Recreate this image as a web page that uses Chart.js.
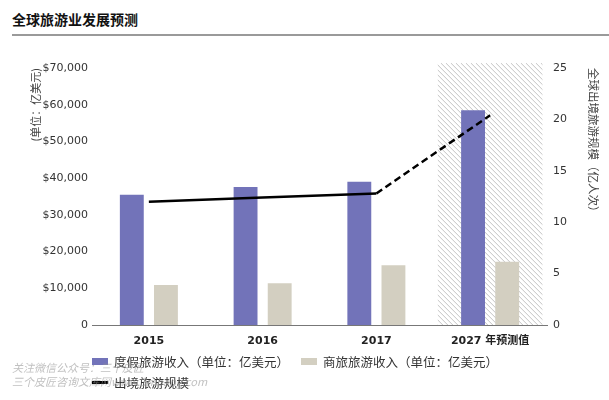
<!DOCTYPE html>
<html lang="zh">
<head>
  <meta charset="UTF-8">
  <title>全球旅游业发展预测</title>
  <script src="https://cdn.jsdelivr.net/npm/chart.js"></script>
  <style>
    body {
      margin: 0;
      background: #fff;
      font-family: 'DejaVu Sans', 'Noto Sans CJK SC', sans-serif;
      width: 609px;
      height: 400px;
      position: relative;
      overflow: hidden;
    }

    .title {
      position: absolute;
      left: 12px;
      top: 9px;
      font-family: 'Noto Sans CJK SC', sans-serif;
      font-size: 14px;
      font-weight: bold;
      color: #111;
    }

    .rule {
      position: absolute;
      left: 12px;
      right: 0;
      top: 34px;
      border-top: 2px solid #9a9a9a;
    }

    #wrap {
      position: absolute;
      left: 0;
      top: 0;
      width: 609px;
      height: 400px;
    }

    .legend {
      position: absolute;
      left: 92px;
      top: 351px;
      font-family: 'Noto Sans CJK SC', sans-serif;
      font-size: 12.5px;
      color: #333;
    }

    .legend .row {
      display: flex;
      height: 21px;
      align-items: center;
    }

    .legend .item {
      display: flex;
      align-items: center;
      margin-right: 12px;
    }

    .legend .swatch {
      width: 16px;
      margin-right: 6px;
    }

    .watermark {
      position: absolute;
      left: 12px;
      top: 360px;
      font-family: 'Noto Sans CJK SC', sans-serif;
      font-style: italic;
      font-size: 11px;
      line-height: 14px;
      color: rgba(150, 150, 150, 0.6);
    }
  </style>
</head>
<body>

  <div class="title">全球旅游业发展预测</div>
  <div class="rule"></div>

  <div id="wrap">
    <canvas id="tourismChart" width="609" height="400"></canvas>
  </div>

  <div class="legend" id="legend"></div>

  <div class="watermark">
    关注微信公众号：三个皮匠<br>
    三个皮匠咨询文库网www.3mbang.com
  </div>

  <script>
    const categories = ['2015', '2016', '2017', '2027 年预测值'];

    // 亿美元
    const leisureRevenue = [35500, 37600, 39000, 58500];
    const businessRevenue = [10900, 11400, 16300, 17200];

    // 亿人次
    const outboundTrips = [12.0, 12.4, 12.8, 20.4];

    const forecastIndex = 3;

    const revenueTicks = [0, 10000, 20000, 30000, 40000, 50000, 60000, 70000];
    const tripTicks = [0, 5, 10, 15, 20, 25];

    const blue = '#7273b9';
    const beige = '#d3cfc1';

    // hatched background behind the forecast column
    const hatchPlugin = {
      id: 'hatch',
      beforeDatasetsDraw(chart) {
        const { ctx, chartArea, scales } = chart;
        const cx = scales.x.getPixelForValue(forecastIndex);
        const half = (scales.x.getPixelForValue(1) - scales.x.getPixelForValue(0)) * 0.46;
        const left = cx - half, right = cx + half;
        const top = chartArea.top - 5, bottom = chartArea.bottom;
        ctx.save();
        ctx.beginPath();
        ctx.rect(left, top, right - left, bottom - top);
        ctx.clip();
        ctx.strokeStyle = '#b4b4b4';
        ctx.lineWidth = 0.8;
        const h = bottom - top;
        for (let x = left - h; x < right; x += 5) {
          ctx.beginPath();
          ctx.moveTo(x, top);
          ctx.lineTo(x + h, bottom);
          ctx.stroke();
        }
        ctx.restore();
      }
    };

    const ctx = document.getElementById('tourismChart').getContext('2d');

    const chart = new Chart(ctx, {
      data: {
        labels: categories,
        datasets: [
          {
            type: 'line',
            label: '出境旅游规模',
            data: outboundTrips,
            yAxisID: 'y1',
            borderColor: '#000',
            backgroundColor: '#000',
            borderWidth: 2.5,
            pointRadius: 0,
            tension: 0,
            order: 0,
            segment: {
              borderDash: c => c.p1DataIndex === forecastIndex ? [7, 4] : undefined
            }
          },
          {
            type: 'bar',
            label: '度假旅游收入（单位：亿美元）',
            data: leisureRevenue,
            yAxisID: 'y',
            backgroundColor: blue,
            categoryPercentage: 0.6,
            barPercentage: 0.7,
            order: 1
          },
          {
            type: 'bar',
            label: '商旅旅游收入（单位：亿美元）',
            data: businessRevenue,
            yAxisID: 'y',
            backgroundColor: beige,
            categoryPercentage: 0.6,
            barPercentage: 0.7,
            order: 1
          }
        ]
      },
      options: {
        responsive: false,
        animation: false,
        layout: {
          padding: { top: 68, bottom: 50, left: 0, right: 0 }
        },
        plugins: {
          legend: { display: false },
          tooltip: { enabled: false }
        },
        scales: {
          x: {
            grid: { display: false, drawTicks: false },
            border: { color: '#777', width: 1 },
            ticks: {
              padding: 10,
              color: '#222',
              font: { family: "'DejaVu Sans', 'Noto Sans CJK SC'", size: 11, weight: 'bold' }
            },
            afterFit: s => { s.height = 25; }
          },
          y: {
            position: 'left',
            min: 0,
            max: 70000,
            grid: { display: false, drawTicks: false },
            border: { display: false },
            afterBuildTicks: s => { s.ticks = revenueTicks.map(v => ({ value: v })); },
            ticks: {
              padding: 4,
              color: '#333',
              font: { family: "'DejaVu Sans'", size: 11 },
              callback: v => v === 0 ? '0' : '$' + v.toLocaleString('en-US')
            },
            title: {
              display: true,
              text: '(单位：亿美元)',
              align: 'end',
              color: '#444',
              padding: { top: 29, bottom: 0 },
              font: { family: "'Noto Sans CJK SC'", size: 11 }
            },
            afterFit: s => { s.width = 92; }
          },
          y1: {
            position: 'right',
            min: 0,
            max: 25,
            grid: { display: false, drawTicks: false },
            border: { display: false },
            afterBuildTicks: s => { s.ticks = tripTicks.map(v => ({ value: v })); },
            ticks: {
              padding: 6,
              color: '#333',
              font: { family: "'DejaVu Sans'", size: 11 }
            },
            title: {
              display: true,
              text: '全球出境旅游规模（亿人次）',
              align: 'end',
              color: '#444',
              padding: { top: 9, bottom: 0 },
              font: { family: "'Noto Sans CJK SC'", size: 11.5 }
            },
            afterFit: s => { s.width = 62; }
          }
        }
      },
      plugins: [hatchPlugin]
    });

    // legend built from the chart's datasets
    const legendEl = document.getElementById('legend');
    const ds = chart.data.datasets;
    const rows = [[ds[1], ds[2]], [ds[0]]];
    rows.forEach(row => {
      const r = document.createElement('div');
      r.className = 'row';
      row.forEach(d => {
        const item = document.createElement('div');
        item.className = 'item';
        const sw = document.createElement('span');
        sw.className = 'swatch';
        sw.style.height = d.type === 'line' ? '3px' : '7px';
        sw.style.background = d.type === 'line' ? d.borderColor : d.backgroundColor;
        item.appendChild(sw);
        item.appendChild(document.createTextNode(d.label));
        r.appendChild(item);
      });
      legendEl.appendChild(r);
    });
  </script>
</body>
</html>
